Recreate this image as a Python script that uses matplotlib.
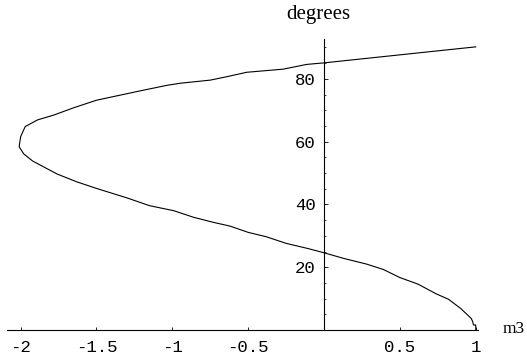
import matplotlib
matplotlib.use("Agg")
import matplotlib.pyplot as plt
from matplotlib.ticker import MultipleLocator

# curve: m3 vs angle in degrees
m3 = [1.0, 1.0, 0.985, 0.98, 0.97, 0.90, 0.82, 0.74, 0.62, 0.50, 0.39, 0.28,
      0.13, 0.0, -0.11, -0.25, -0.38, -0.50, -0.62, -0.73, -0.86, -0.99,
      -1.15, -1.30, -1.50, -1.63, -1.76, -1.92, -1.98, -2.01, -2.0, -1.97,
      -1.89, -1.78, -1.65, -1.50, -1.21, -1.04, -0.95, -0.75, -0.64, -0.51,
      -0.268, -0.115, 0.0, 1.0]
degrees = [0.0, 1.6, 1.6, 2.7, 3.7, 6.9, 9.8, 11.5, 14.6, 16.7, 19.3, 21.0,
           22.8, 24.6, 26.0, 27.6, 29.7, 31.1, 33.1, 34.3, 35.9, 38.0,
           39.6, 42.1, 45.1, 47.2, 49.7, 53.8, 56.1, 58.4, 61.6, 64.8,
           66.9, 68.5, 70.8, 73.2, 76.2, 77.9, 78.6, 79.6, 80.7, 82.1,
           83.1, 84.6, 85.1, 90.2]

xticks = [-2, -1.5, -1, -0.5, 0.5, 1]
xlabels = ["-2", "-1.5", "-1", "-0.5", "0.5", "1"]
yticks = [20, 40, 60, 80]

W, H = 527, 362
fig = plt.figure(figsize=(W / 100, H / 100), dpi=100)
ax = fig.add_axes([7 / W, 32 / H, 471 / W, 291 / H])

ax.plot(m3, degrees, color="black", lw=0.8)

ax.set_xlim(-2.09, 1.015)
ax.set_ylim(0, 92.7)

for s in ["top", "right"]:
    ax.spines[s].set_visible(False)
ax.spines["left"].set_position(("data", 0))
ax.spines["bottom"].set_position(("data", 0))
ax.spines["left"].set_linewidth(0.8)
ax.spines["bottom"].set_linewidth(0.8)

ax.set_xticks(xticks)
ax.set_xticklabels(xlabels)
ax.set_yticks(yticks)
ax.yaxis.set_minor_locator(MultipleLocator(5))
ax.tick_params(axis="x", direction="in", length=2, width=0.6, pad=7,
               labelsize=12.5)
ax.tick_params(axis="y", which="major", direction="in", length=3, width=0.6,
               pad=6, labelsize=12.5)
ax.tick_params(axis="y", which="minor", direction="in", length=1.5, width=0.5)
for lab in ax.get_xticklabels() + ax.get_yticklabels():
    lab.set_family("Liberation Mono")

fig.text(318 / W, 1 - 15 / H, "degrees", ha="center", va="center",
         family="Liberation Serif", fontsize=15)
fig.text(503 / W, 1 - 329 / H, "m3", ha="left", va="center",
         family="Liberation Serif", fontsize=12.5)

fig.savefig("out.png", dpi=100)
